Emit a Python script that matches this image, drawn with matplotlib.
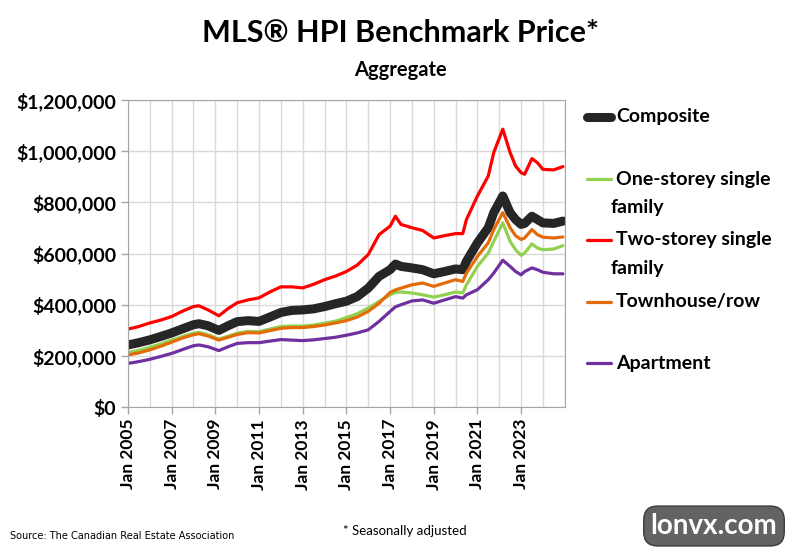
import matplotlib
matplotlib.use("Agg")
import matplotlib.pyplot as plt
import matplotlib.dates as mdates
import pandas as pd
from matplotlib.lines import Line2D
from matplotlib.ticker import FuncFormatter, MultipleLocator, FixedLocator

plt.rcParams['font.family'] = ['Lato', 'DejaVu Sans']

# Month of each reading (values in thousands of dollars)
months = ['2005-01', '2005-07', '2006-01', '2006-07', '2007-01', '2007-07', '2008-01', '2008-04',
          '2008-09', '2009-03', '2009-08', '2010-01', '2010-07', '2011-01', '2011-07', '2012-01',
          '2012-07', '2013-01', '2013-07', '2014-01', '2014-07', '2015-01', '2015-07', '2016-01',
          '2016-07', '2017-01', '2017-04', '2017-07', '2018-01', '2018-07', '2019-01', '2019-07',
          '2020-01', '2020-05', '2020-07', '2021-01', '2021-07', '2021-10', '2022-03', '2022-07',
          '2022-10', '2023-01', '2023-03', '2023-07', '2023-10', '2024-01', '2024-07', '2024-12']

composite = [243, 252, 263, 276, 290, 306, 322, 326, 318, 300, 318, 334, 338, 335, 352, 370,
             378, 380, 384, 393, 404, 414, 432, 465, 511, 537, 559, 550, 544, 537, 521, 530,
             540, 537, 570, 642, 701, 760, 825, 760, 733, 714, 718, 746, 733, 720, 718, 727]

one_storey = [213, 222, 234, 247, 262, 276, 289, 292, 283, 266, 277, 289, 296, 295, 305, 315,
              317, 317, 321, 328, 336, 350, 365, 387, 413, 439, 448, 450, 446, 439, 430, 439,
              450, 446, 478, 550, 602, 648, 720, 648, 615, 593, 602, 638, 622, 615, 618, 631]

two_storey = [305, 315, 329, 340, 354, 375, 393, 396, 380, 357, 385, 408, 419, 427, 450, 470,
              470, 466, 480, 498, 512, 530, 555, 596, 674, 707, 746, 714, 701, 690, 661, 670,
              678, 678, 733, 825, 903, 995, 1086, 995, 942, 916, 910, 971, 955, 929, 927, 940]

townhouse = [204, 212, 224, 238, 254, 270, 283, 287, 278, 262, 273, 284, 291, 290, 299, 308,
             311, 311, 315, 321, 329, 338, 352, 374, 406, 448, 458, 465, 478, 485, 472, 485,
             498, 491, 524, 589, 642, 694, 760, 701, 670, 655, 661, 694, 674, 664, 661, 665]

apartment = [171, 178, 187, 198, 210, 225, 240, 243, 236, 221, 236, 249, 252, 252, 258, 264,
             262, 260, 263, 268, 273, 281, 290, 302, 335, 374, 392, 400, 415, 419, 406, 419,
             432, 426, 439, 459, 498, 524, 574, 550, 530, 517, 530, 544, 537, 527, 521, 521]

labels = ['Composite', 'One-storey single\nfamily', 'Two-storey single\nfamily',
          'Townhouse/row', 'Apartment']
colors = ['#262626', '#92d050', '#ff0000', '#e36c09', '#7030a0']
widths = [6.5, 2.3, 2.3, 2.3, 2.3]

dates = pd.to_datetime(months)
series = [composite, one_storey, two_storey, townhouse, apartment]

fig = plt.figure(figsize=(8, 5.48), dpi=100)
ax = fig.add_axes([0.16, 0.257, 0.546, 0.5605])

for vals, c, w in zip(series, colors, widths):
    ax.plot(dates, [v * 1000 for v in vals], color=c, lw=w, solid_capstyle='round',
            solid_joinstyle='round')

ax.set_ylim(0, 1200000)
ax.set_xlim(pd.Timestamp('2005-01-01'), pd.Timestamp('2025-01-01'))
ax.yaxis.set_major_locator(MultipleLocator(200000))
ax.yaxis.set_major_formatter(FuncFormatter(lambda v, p: '${:,.0f}'.format(v)))
major_ticks = pd.date_range('2005-01-01', '2023-01-01', freq='24MS')
ax.xaxis.set_major_locator(FixedLocator(mdates.date2num(major_ticks)))
ax.xaxis.set_minor_locator(mdates.YearLocator(1, month=1, day=1))
ax.xaxis.set_major_formatter(mdates.DateFormatter('Jan %Y'))

ax.grid(True, which='both', color='#d9d9d9', lw=1)
ax.set_axisbelow(True)
for s in ax.spines.values():
    s.set_color('#a6a6a6')
ax.tick_params(axis='both', which='major', color='#a6a6a6', length=5, width=1)
ax.tick_params(axis='x', which='minor', length=0)
for lab in ax.get_yticklabels():
    lab.set_fontsize(14)
    lab.set_fontweight('bold')
for lab in ax.get_xticklabels():
    lab.set_fontsize(12.5)
    lab.set_fontweight('bold')
    lab.set_rotation(90)

fig.text(0.5, 0.94, 'MLS® HPI Benchmark Price*', ha='center', va='center',
         fontsize=22, fontweight='bold')
fig.text(0.5, 0.873, 'Aggregate', ha='center', va='center', fontsize=14.5, fontweight='bold')

# legend drawn by hand on the right
leg_y = [117, 179, 240, 302, 363]
for lab, c, w, yp in zip(labels, colors, widths, leg_y):
    yf = 1 - yp / 548
    fig.add_artist(Line2D([587 / 800, 611 / 800], [yf, yf], color=c, lw=w,
                          solid_capstyle='round', transform=fig.transFigure))
    first, *rest = lab.split('\n')
    fig.text(616 / 800, yf, first, ha='left', va='center', fontsize=14, fontweight='bold')
    if rest:
        fig.text(611 / 800, yf - 28 / 548, rest[0], ha='left', va='center', fontsize=14,
                 fontweight='bold')

fig.text(10 / 800, 1 - 536 / 548, 'Source: The Canadian Real Estate Association',
         ha='left', va='center', fontsize=7, family=['Liberation Sans Narrow', 'DejaVu Sans'])
fig.text(405 / 800, 1 - 531 / 548, '* Seasonally adjusted', ha='center', va='center',
         fontsize=9.5)
fig.text(714 / 800, 1 - 526 / 548, 'lonvx.com', ha='center', va='center', fontsize=20,
         fontweight='bold', color='white',
         bbox=dict(boxstyle='round,pad=0.25,rounding_size=0.5', fc='#636363', ec='#3a3a3a'))

fig.savefig('out.png', dpi=100)
